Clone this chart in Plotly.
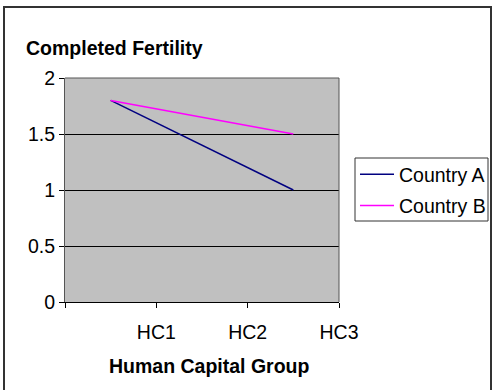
import plotly.graph_objects as go

categories = ["HC1", "HC2", "HC3"]
country_a = [1.8, 1.4, 1.0]
country_b = [1.8, 1.65, 1.5]
y_ticks = [0, 0.5, 1, 1.5, 2]
y_tick_labels = ["0", "0.5", "1", "1.5", "2"]

W, H = 494, 390
L, R, T, B = 65, 339, 78, 302
FS = 19.5

def px_x(p):
    return (p - L) / (R - L)

def px_y(p):
    return (B - p) / (B - T)

xpos = [i + 0.5 for i in range(len(categories))]
label_pos = [i + 1 for i in range(len(categories))]

fig = go.Figure()
fig.add_trace(go.Scatter(x=xpos, y=country_a, mode="lines", name="Country A",
                         legendgroup="a", line=dict(color="#000080", width=1.5)))
fig.add_trace(go.Scatter(x=xpos, y=country_b, mode="lines", name="Country B",
                         legendgroup="b", line=dict(color="#FF00FF", width=1.5)))

font = "Liberation Sans, Arial, sans-serif"
fig.update_layout(
    width=W, height=H,
    margin=dict(l=L, r=W - R, t=T, b=H - B, autoexpand=False),
    paper_bgcolor="white",
    plot_bgcolor="#C0C0C0",
    font=dict(family=font, size=FS, color="black"),
    showlegend=True,
    legend=dict(x=px_x(355), y=px_y(155), xanchor="left", yanchor="top",
                borderwidth=0, bgcolor="rgba(0,0,0,0)",
                font=dict(size=FS), traceorder="grouped", tracegroupgap=3,
                itemwidth=34),
    xaxis=dict(range=[0, len(categories)], tickmode="array",
               tickvals=[0] + label_pos, ticktext=[""] + categories,
               showgrid=False, zeroline=False, showline=True, linecolor="black",
               linewidth=1, ticks="outside", ticklen=5, tickcolor="black",
               ticklabelstandoff=8, mirror=False),
    yaxis=dict(range=[0, 2], tickmode="array", tickvals=y_ticks, ticktext=y_tick_labels,
               showgrid=True, gridcolor="black", gridwidth=1, zeroline=False,
               showline=True, linecolor="#555555", linewidth=1,
               ticks="outside", ticklen=5, tickcolor="black"),
    annotations=[
        dict(text="<b>Completed Fertility</b>", xref="paper", yref="paper",
             x=px_x(24), y=px_y(48), xanchor="left", yanchor="middle",
             showarrow=False, font=dict(size=FS)),
        dict(text="<b>Human Capital Group</b>", xref="paper", yref="paper",
             x=px_x(209), y=px_y(366), xanchor="center", yanchor="middle",
             showarrow=False, font=dict(size=FS)),
    ],
    shapes=[
        dict(type="rect", xref="paper", yref="paper",
             x0=px_x(4), x1=px_x(491), y0=px_y(7), y1=px_y(396),
             line=dict(color="#333333", width=2), fillcolor="rgba(0,0,0,0)", layer="above"),
        dict(type="rect", xref="paper", yref="paper",
             x0=px_x(355), x1=px_x(488), y0=px_y(158), y1=px_y(221),
             line=dict(color="#333333", width=1), fillcolor="white", layer="above"),
        dict(type="line", xref="paper", yref="paper",
             x0=1, x1=1, y0=0, y1=1, line=dict(color="#555555", width=1)),
        dict(type="line", xref="paper", yref="paper",
             x0=0, x1=1, y0=1, y1=1, line=dict(color="#555555", width=1)),
    ],
)

fig.write_html("out.html")
